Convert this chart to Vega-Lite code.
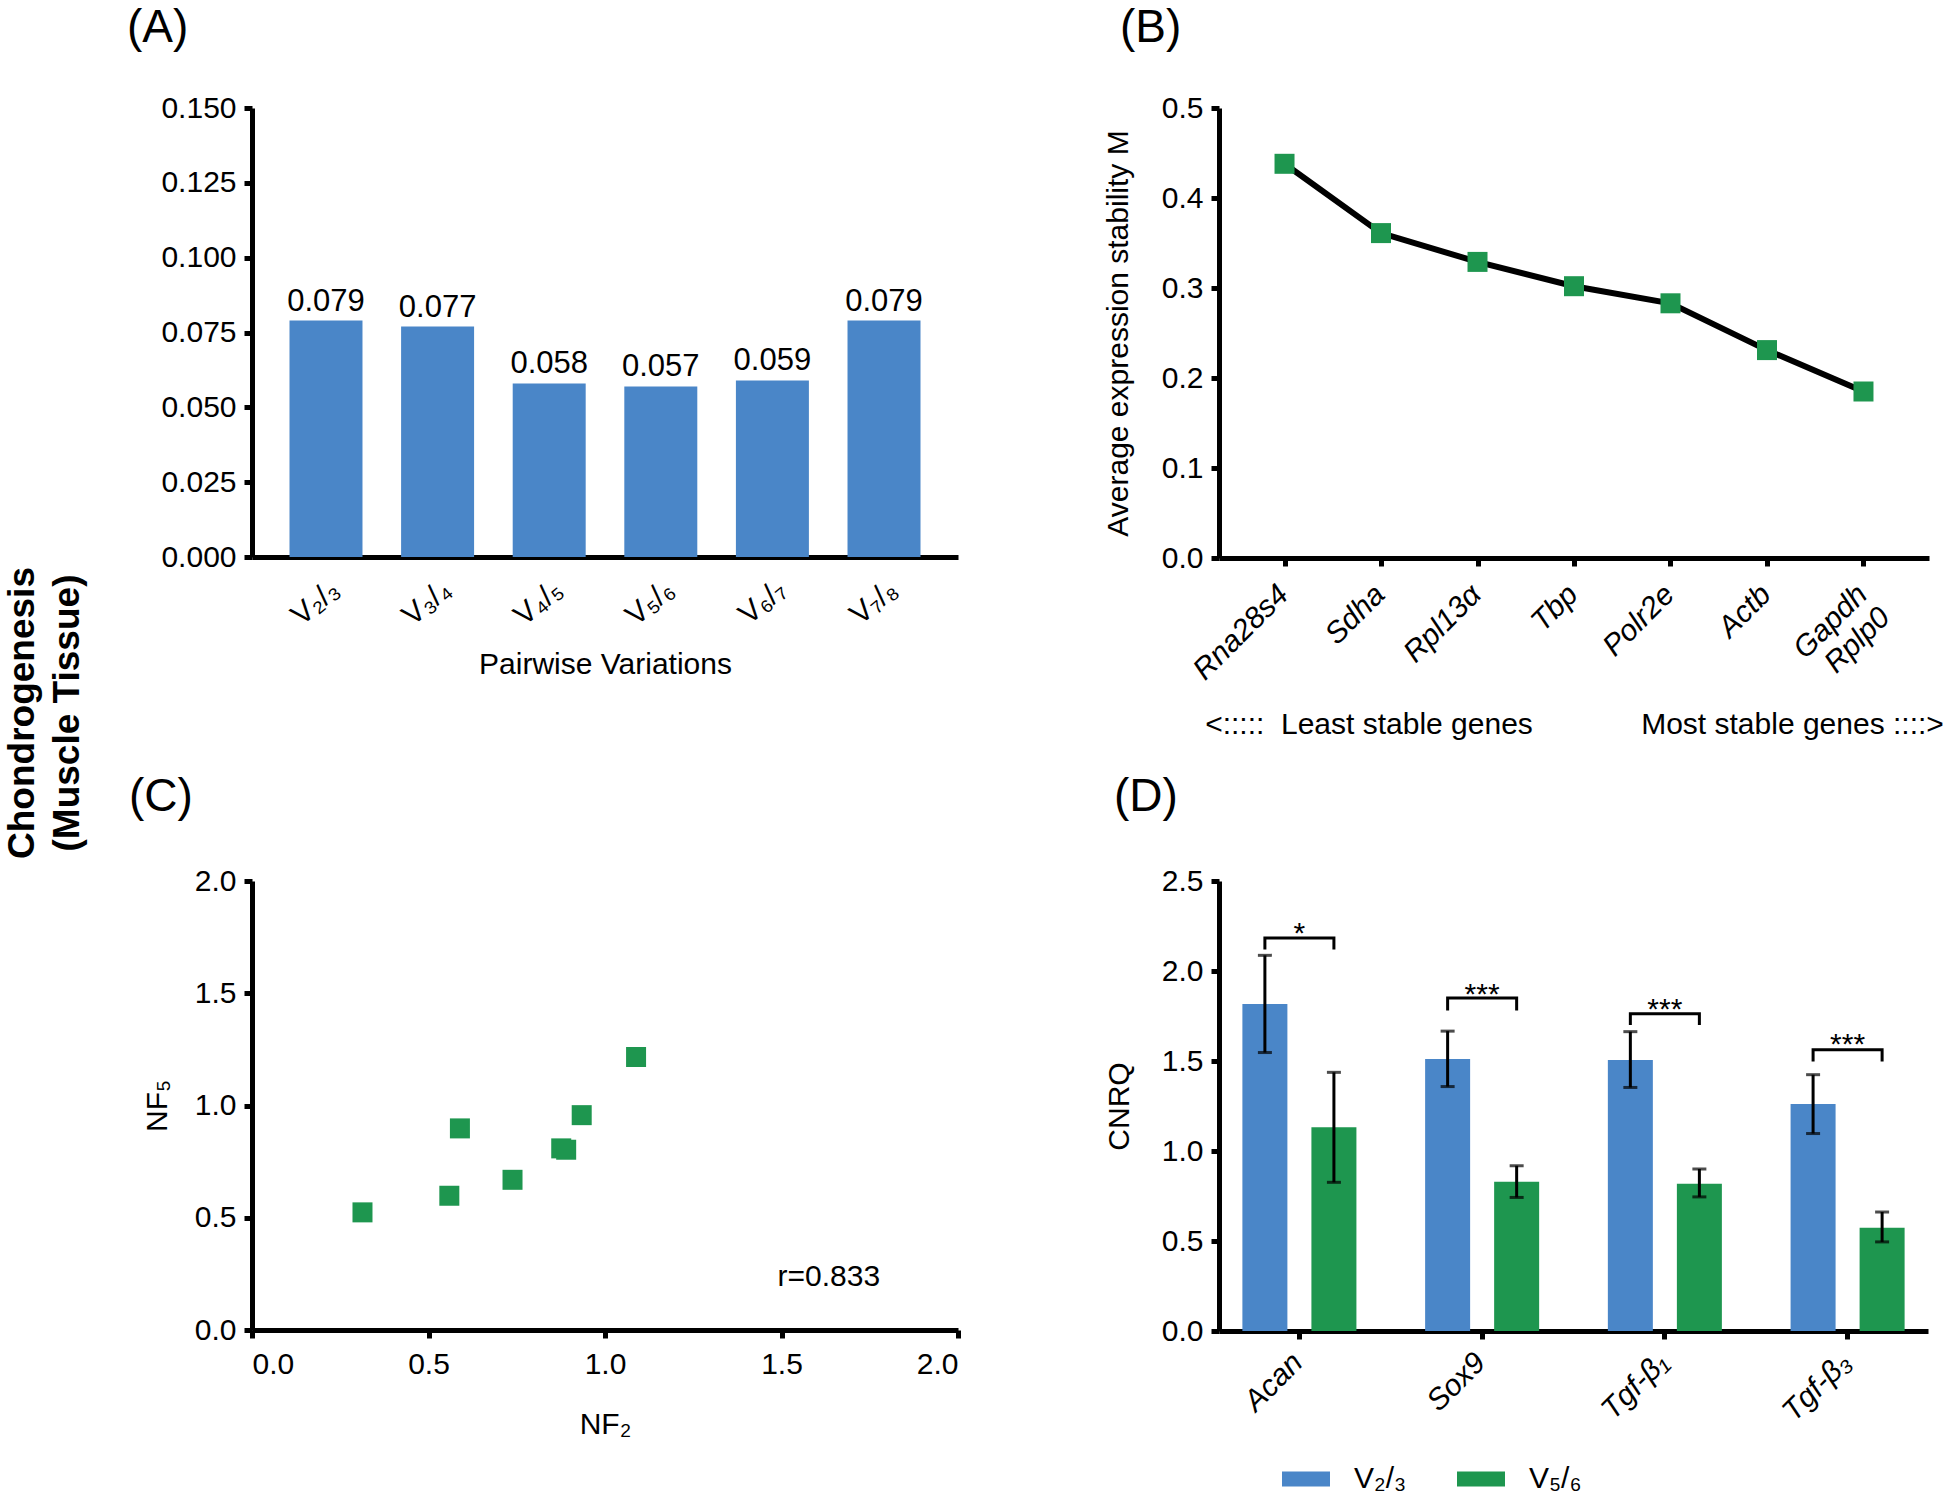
{
  "$schema": "https://vega.github.io/schema/vega-lite/v6.json",
  "background": "white",
  "padding": {"left": 3, "top": 5, "right": 0, "bottom": 0},
  "title": {"text": ["Chondrogenesis", "(Muscle Tissue)"], "orient": "left", "anchor": "middle", "frame": "group", "fontSize": 37, "fontWeight": "bold", "lineHeight": 45, "offset": 40, "dx": -605},
  "bounds": "flush",
  "spacing": 773,
  "vconcat": [
    {
      "bounds": "flush",
      "spacing": 261,
      "hconcat": [
        {
          "width": 706,
          "height": 449,
          "title": {"text": "(A)", "dx": -125, "offset": 41},
          "data": {"values": [
            {"pair": "V₂/₃", "v": 0.079},
            {"pair": "V₃/₄", "v": 0.077},
            {"pair": "V₄/₅", "v": 0.058},
            {"pair": "V₅/₆", "v": 0.057},
            {"pair": "V₆/₇", "v": 0.059},
            {"pair": "V₇/₈", "v": 0.079}
          ]},
          "encoding": {
            "x": {"field": "pair", "type": "nominal", "sort": null,
                  "scale": {"paddingInner": 0.346, "paddingOuter": 0.336},
                  "axis": {"title": "Pairwise Variations", "labelAngle": -40, "ticks": false, "labelPadding": 17, "titlePadding": 19, "labelOverlap": false}},
            "y": {"field": "v", "type": "quantitative", "scale": {"domain": [0, 0.15], "nice": false},
                  "axis": {"title": null, "values": [0, 0.025, 0.05, 0.075, 0.1, 0.125, 0.15], "format": ".3f", "labelPadding": 8}}
          },
          "layer": [
            {"mark": {"type": "bar", "color": "#4A86C8"}},
            {"mark": {"type": "text", "baseline": "bottom", "dy": -3, "fontSize": 31, "color": "black"},
             "encoding": {"text": {"field": "v", "type": "quantitative", "format": ".3f"}}}
          ]
        },
        {
          "width": 710,
          "height": 450,
          "title": {"text": "(B)", "dx": -99, "offset": 41},
          "data": {"values": [
            {"gene": "Rna28s4", "m": 0.438},
            {"gene": "Sdha", "m": 0.361},
            {"gene": "Rpl13α", "m": 0.329},
            {"gene": "Tbp", "m": 0.302},
            {"gene": "Polr2e", "m": 0.283},
            {"gene": "Actb", "m": 0.231},
            {"gene": "Gapdh Rplp0", "m": 0.185}
          ]},
          "encoding": {
            "x": {"field": "gene", "type": "nominal", "sort": null,
                  "scale": {"type": "point", "padding": 0.679},
                  "axis": {"title": "<:::::\u00a0\u00a0Least stable genes\u00a0\u00a0\u00a0\u00a0\u00a0\u00a0\u00a0\u00a0\u00a0\u00a0\u00a0\u00a0\u00a0Most stable genes ::::>", "labelAngle": -45, "labelFontStyle": "italic", "labelOverlap": false,
                           "labelExpr": "datum.value == 'Gapdh Rplp0' ? ['Gapdh', 'Rplp0'] : datum.value", "labelPadding": 13, "labelOffset": -12, "titlePadding": 23}},
            "y": {"field": "m", "type": "quantitative", "scale": {"domain": [0, 0.5], "nice": false},
                  "axis": {"title": "Average expression stability M", "values": [0, 0.1, 0.2, 0.3, 0.4, 0.5], "format": ".1f", "labelPadding": 8, "titlePadding": 28}}
          },
          "layer": [
            {"mark": {"type": "line", "color": "black", "strokeWidth": 6}},
            {"mark": {"type": "point", "shape": "square", "filled": true, "size": 400, "color": "#1E964F", "opacity": 1}}
          ]
        }
      ]
    },
    {
      "bounds": "flush",
      "spacing": 261,
      "hconcat": [
        {
          "width": 706,
          "height": 449,
          "title": {"text": "(C)", "dx": -123, "offset": 45},
          "layer": [
            {
              "data": {"values": [
                {"nf2": 0.313, "nf5": 0.524},
                {"nf2": 0.559, "nf5": 0.598},
                {"nf2": 0.589, "nf5": 0.898},
                {"nf2": 0.738, "nf5": 0.669},
                {"nf2": 0.876, "nf5": 0.809},
                {"nf2": 0.890, "nf5": 0.803},
                {"nf2": 0.934, "nf5": 0.957},
                {"nf2": 1.088, "nf5": 1.216}
              ]},
              "mark": {"type": "point", "shape": "square", "filled": true, "size": 400, "color": "#1E964F", "opacity": 1},
              "encoding": {
                "x": {"field": "nf2", "type": "quantitative", "scale": {"domain": [0, 2], "nice": false},
                      "axis": {"title": "NF₂", "values": [0, 0.5, 1, 1.5, 2], "format": ".1f", "labelPadding": 11, "titlePadding": 30}},
                "y": {"field": "nf5", "type": "quantitative", "scale": {"domain": [0, 2], "nice": false},
                      "axis": {"title": "NF₅", "values": [0, 0.5, 1, 1.5, 2], "format": ".1f", "labelPadding": 8, "titlePadding": 22}}
              }
            },
            {
              "data": {"values": [{"label": "r=0.833", "x": 1.634, "y": 0.237}]},
              "mark": {"type": "text", "fontSize": 30, "color": "black", "baseline": "middle", "align": "center"},
              "encoding": {
                "x": {"field": "x", "type": "quantitative"},
                "y": {"field": "y", "type": "quantitative"},
                "text": {"field": "label"}
              }
            }
          ]
        },
        {
          "width": 709,
          "height": 450,
          "title": {"text": "(D)", "dx": -105, "offset": 45},
          "layer": [
            {
              "data": {"values": [
                {"gene": "Acan", "grp": "V₂/₃", "mean": 1.816, "lo": 1.547, "hi": 2.087},
                {"gene": "Acan", "grp": "V₅/₆", "mean": 1.132, "lo": 0.826, "hi": 1.437},
                {"gene": "Sox9", "grp": "V₂/₃", "mean": 1.511, "lo": 1.358, "hi": 1.666},
                {"gene": "Sox9", "grp": "V₅/₆", "mean": 0.829, "lo": 0.742, "hi": 0.918},
                {"gene": "Tgf-β₁", "grp": "V₂/₃", "mean": 1.505, "lo": 1.353, "hi": 1.663},
                {"gene": "Tgf-β₁", "grp": "V₅/₆", "mean": 0.818, "lo": 0.745, "hi": 0.900},
                {"gene": "Tgf-β₃", "grp": "V₂/₃", "mean": 1.261, "lo": 1.097, "hi": 1.424},
                {"gene": "Tgf-β₃", "grp": "V₅/₆", "mean": 0.574, "lo": 0.495, "hi": 0.661}
              ]},
              "layer": [
                {
                  "mark": {"type": "bar"},
                  "encoding": {
                    "y": {"field": "mean", "type": "quantitative", "scale": {"domain": [0, 2.5], "nice": false},
                          "axis": {"title": "CNRQ", "values": [0, 0.5, 1, 1.5, 2, 2.5], "format": ".1f", "labelPadding": 8, "titlePadding": 27}},
                    "color": {"field": "grp", "type": "nominal",
                              "scale": {"domain": ["V₂/₃", "V₅/₆"], "range": ["#4A86C8", "#1E964F"]},
                              "legend": {"orient": "none", "legendX": 1030, "legendY": 1347, "direction": "horizontal", "title": null,
                                         "symbolType": "M-1,-0.3125H1V0.3125H-1Z", "symbolSize": 2304, "symbolStrokeWidth": 0,
                                         "labelFontSize": 30, "labelOffset": 24, "columnPadding": 50, "padding": 0, "labelColor": "black"}}
                  }
                },
                {
                  "mark": {"type": "rule", "color": "black", "strokeWidth": 3},
                  "encoding": {"y": {"field": "lo", "type": "quantitative"}, "y2": {"field": "hi"}}
                },
                {
                  "mark": {"type": "tick", "color": "black", "thickness": 3, "size": 14},
                  "encoding": {"y": {"field": "lo", "type": "quantitative"}}
                },
                {
                  "mark": {"type": "tick", "color": "black", "thickness": 3, "size": 14},
                  "encoding": {"y": {"field": "hi", "type": "quantitative"}}
                }
              ],
              "encoding": {
                "x": {"field": "gene", "type": "nominal", "sort": ["Acan", "Sox9", "Tgf-β₁", "Tgf-β₃"],
                      "scale": {"paddingInner": 0.376, "paddingOuter": 0.128},
                      "axis": {"title": null, "labelAngle": -45, "labelFontStyle": "italic", "labelOverlap": false, "labelPadding": 8, "labelOffset": -12}},
                "xOffset": {"field": "grp", "type": "nominal", "sort": ["V₂/₃", "V₅/₆"],
                            "scale": {"paddingInner": 0.348, "paddingOuter": 0}}
              }
            },
            {
              "data": {"values": [
                {"gene": "Acan", "grp": "V₂/₃", "y": 2.12, "ord": 0},
                {"gene": "Acan", "grp": "V₂/₃", "y": 2.184, "ord": 1},
                {"gene": "Acan", "grp": "V₅/₆", "y": 2.184, "ord": 2},
                {"gene": "Acan", "grp": "V₅/₆", "y": 2.12, "ord": 3},
                {"gene": "Sox9", "grp": "V₂/₃", "y": 1.78, "ord": 0},
                {"gene": "Sox9", "grp": "V₂/₃", "y": 1.85, "ord": 1},
                {"gene": "Sox9", "grp": "V₅/₆", "y": 1.85, "ord": 2},
                {"gene": "Sox9", "grp": "V₅/₆", "y": 1.78, "ord": 3},
                {"gene": "Tgf-β₁", "grp": "V₂/₃", "y": 1.70, "ord": 0},
                {"gene": "Tgf-β₁", "grp": "V₂/₃", "y": 1.763, "ord": 1},
                {"gene": "Tgf-β₁", "grp": "V₅/₆", "y": 1.763, "ord": 2},
                {"gene": "Tgf-β₁", "grp": "V₅/₆", "y": 1.70, "ord": 3},
                {"gene": "Tgf-β₃", "grp": "V₂/₃", "y": 1.497, "ord": 0},
                {"gene": "Tgf-β₃", "grp": "V₂/₃", "y": 1.563, "ord": 1},
                {"gene": "Tgf-β₃", "grp": "V₅/₆", "y": 1.563, "ord": 2},
                {"gene": "Tgf-β₃", "grp": "V₅/₆", "y": 1.497, "ord": 3}
              ]},
              "mark": {"type": "line", "color": "black", "strokeWidth": 3},
              "encoding": {
                "x": {"field": "gene", "type": "nominal", "sort": ["Acan", "Sox9", "Tgf-β₁", "Tgf-β₃"]},
                "xOffset": {"field": "grp", "type": "nominal", "sort": ["V₂/₃", "V₅/₆"]},
                "y": {"field": "y", "type": "quantitative"},
                "detail": {"field": "gene"},
                "order": {"field": "ord", "type": "quantitative"}
              }
            },
            {
              "data": {"values": [
                {"gene": "Acan", "s": "*", "y": 2.154},
                {"gene": "Sox9", "s": "***", "y": 1.817},
                {"gene": "Tgf-β₁", "s": "***", "y": 1.733},
                {"gene": "Tgf-β₃", "s": "***", "y": 1.541}
              ]},
              "mark": {"type": "text", "fontSize": 30, "color": "black", "baseline": "alphabetic", "align": "center"},
              "encoding": {
                "x": {"field": "gene", "type": "nominal", "sort": ["Acan", "Sox9", "Tgf-β₁", "Tgf-β₃"]},
                "y": {"field": "y", "type": "quantitative"},
                "text": {"field": "s"}
              }
            }
          ]
        }
      ]
    }
  ],
  "config": {
    "font": "Liberation Sans",
    "view": {"stroke": null},
    "axis": {"domainColor": "black", "domainWidth": 5, "tickColor": "black", "tickWidth": 5, "tickSize": 8,
             "labelFont": "Liberation Sans", "labelFontSize": 30, "labelColor": "black", "labelPadding": 4,
             "titleFont": "Liberation Sans", "titleFontSize": 30, "titleFontWeight": "normal", "titleColor": "black", "grid": false},
    "title": {"fontSize": 46, "fontWeight": "normal", "anchor": "start", "frame": "group", "color": "black", "font": "Liberation Sans"},
    "legend": {"labelFont": "Liberation Sans"}
  }
}
